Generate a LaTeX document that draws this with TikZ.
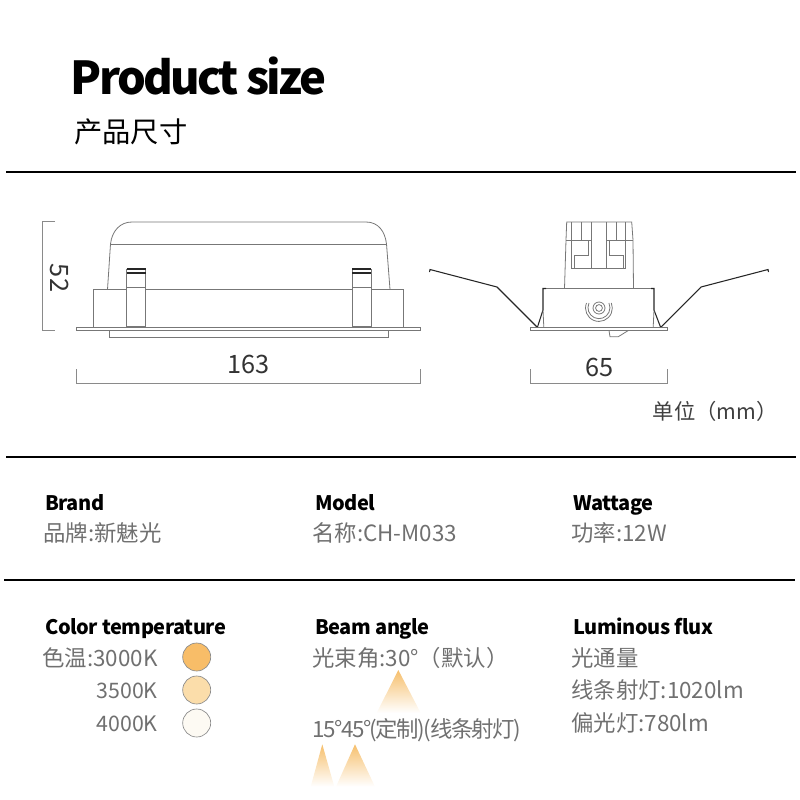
\documentclass[tikz,border=0pt]{standalone}
\usepackage{fontspec}
\setmainfont{Noto Sans CJK SC}
\usepackage{xcolor}
\definecolor{lightink}{HTML}{707070}
\definecolor{dimink}{HTML}{8A8A8A}
\definecolor{partink}{HTML}{777777}
\definecolor{beamorange}{HTML}{F6BF6C}

\begin{document}
\begin{tikzpicture}[x=0.75pt,y=0.75pt,yscale=-1,xscale=1,
    rulebar/.style={line width=1.5pt,black},
    part/.style={line width=0.6pt,partink},
    partdark/.style={line width=0.8pt,black!85},
    dimline/.style={line width=0.6pt,dimink},
    headtext/.style={anchor=base west,inner sep=0pt,font=\fontsize{15}{18}\selectfont\bfseries\addfontfeature{LetterSpace=-2.2}},
    valuetext/.style={anchor=base west,inner sep=0pt,text=lightink,font=\fontsize{16.8}{20}\selectfont},
    dimtext/.style={inner sep=0pt,text=black!80,font=\fontsize{19}{22}\selectfont},
    swatch/.style={circle,draw=black!45,line width=0.5pt,minimum size=21pt,inner sep=0pt},
    beam/.style={top color=beamorange,bottom color=white,draw=none}]
    \useasboundingbox (0,0) rectangle (800,800);

    % Title
    \node (titleEn) [anchor=base west,inner sep=0pt,font=\fontsize{34}{40}\selectfont\bfseries\addfontfeature{LetterSpace=-6}] at (70.5,94) {Product size};
    \node (titleCn) [anchor=west,inner sep=0pt,font=\fontsize{21.2}{26}\selectfont] at (74,132) {产品尺寸};

    % Rules
    \draw [rulebar] (6,172) -- (796,172);
    \draw [rulebar] (6,457) -- (796,457);
    \draw [rulebar] (4,580) -- (795,580);

    % Long view: flange and trim
    \draw [part] (76.5,327) -- (420,327) -- (420,330.5) -- (76.5,330.5) -- cycle;
    \draw [part] (109,330.5) -- (109,337.5) -- (388,337.5) -- (388,330.5);
    \draw [part] (93.5,327) -- (93.5,289.5) -- (403.5,289.5) -- (403.5,327);
    % Long view: driver box
    \draw [part] (107.5,289.5) -- (110.5,244) .. controls (112,231) and (120,222) .. (132,222) -- (366,222) .. controls (378,222) and (385,231) .. (386.5,244) -- (390,289.5);
    \draw [part] (110.5,244) -- (386.5,244);
    % Long view: clips
    \foreach \clipx in {126.5,352}{
        \fill [white] (\clipx,269) rectangle (\clipx+19,327);
        \draw [part] (\clipx,269) -- (\clipx,327) (\clipx+19,269) -- (\clipx+19,327);
        \draw [part] (\clipx,287) -- (\clipx+19,287);
        \draw [partdark] (\clipx,269) -- (\clipx+19,269);
        \draw [partdark] (\clipx,273) -- (\clipx+19,273);
        \draw [part] (\clipx,326.5) -- (\clipx+19,326.5);
    }

    % Dimensions, long view
    \draw [dimline] (55,221.5) -- (42.5,221.5) -- (42.5,330) -- (55,330);
    \draw [dimline] (76.5,369) -- (76.5,383.5) -- (420,383.5) -- (420,369);
    \node (dimHeight) [dimtext,rotate=-90] at (60,278) {52};
    \node (dimLength) [dimtext] at (248.5,364) {163};

    % End view: spring wings
    \draw [partdark] (429.5,272) -- (430,269.5) -- (497,287) -- (537,327);
    \draw [partdark] (768.5,272) -- (768,269.5) -- (701,287) -- (661,327);
    % End view: flange and housing
    \draw [part] (530.5,327) -- (667,327) -- (667,330.5) -- (530.5,330.5) -- cycle;
    \draw [part] (543,288.5) -- (654,288.5);
    \draw [partdark] (546,288.5) -- (543,288.5) -- (543,310) -- (537.5,327);
    \draw [partdark] (651,288.5) -- (654,288.5) -- (654,310) -- (660.5,327);
    \draw [part] (543,310) -- (543.8,327) (654,310) -- (653.2,327);
    % End view: neck
    \draw [part] (564.5,288.5) -- (566,240) -- (566.7,222) -- (631.7,222) -- (633,240) -- (633.5,288.5);
    \draw [part] (566,240) -- (591,240) (606.7,240) -- (633,240);
    \draw [part] (571.7,222) -- (571.7,268) -- (625.7,268) -- (625.7,222);
    \draw [part] (581,222) -- (581,240) (616.7,222) -- (616.7,240);
    \draw [part] (591,222) -- (591,268) (606.7,222) -- (606.7,268);
    \draw [part] (574,268) -- (574,255) -- (588.3,255) -- (588.3,240);
    \draw [part] (623,268) -- (623,255) -- (609.7,255) -- (609.7,240);
    % End view: pivot and tab
    \draw [part] (599,308) circle (6);
    \draw [part] (599,308) circle (3.4);
    \draw [part] (586.5,303) arc [start angle=202,end angle=-22,radius=13.4];
    \draw [part] (589,303) arc [start angle=205,end angle=-25,radius=11];
    \draw [part] (609,330.5) -- (610,336.7) -- (618.3,336.7) -- (628.3,330.5);

    % Dimensions, end view
    \draw [dimline] (530.5,369) -- (530.5,383.5) -- (667.5,383.5) -- (667.5,369);
    \node (dimWidth) [dimtext] at (599.5,367) {65};
    \node (unitNote) [anchor=east,inner sep=0pt,text=black!75,font=\fontsize{16}{18}\selectfont] at (778,411) {单位（mm）};

    % Spec row one
    \node (brandHead) [headtext] at (45,510) {Brand};
    \node (brandValue) [valuetext] at (43,541) {品牌:新魅光};
    \node (modelHead) [headtext] at (315,510) {Model};
    \node (modelValue) [valuetext] at (312,541) {名称:CH-M033};
    \node (wattHead) [headtext] at (573,510) {Wattage};
    \node (wattValue) [valuetext] at (571,541) {功率:12W};

    % Color temperature
    \node (tempHead) [headtext] at (45,634) {Color temperature};
    \node (tempWarm) [valuetext,anchor=base east] at (158,666) {色温:3000K};
    \node (tempMid) [valuetext,anchor=base east,font=\fontsize{16}{20}\selectfont] at (158,698) {3500K};
    \node (tempCool) [valuetext,anchor=base east,font=\fontsize{16}{20}\selectfont] at (158,731) {4000K};
    \node (swatchWarm) [swatch,fill={rgb,255:red,248;green,189;blue,104}] at (196.7,657) {};
    \node (swatchMid) [swatch,fill={rgb,255:red,251;green,221;blue,170}] at (196.7,690) {};
    \node (swatchCool) [swatch,fill={rgb,255:red,253;green,250;blue,243}] at (196.7,723) {};

    % Beam angle
    \node (beamHead) [headtext] at (315,634) {Beam angle};
    \node (beamDefault) [valuetext] at (312,666) {光束角:30°（默认）};
    \node (beamOther) [valuetext,font=\fontsize{16.8}{20}\selectfont\addfontfeature{LetterSpace=-6.5}] at (312,737) {15°45°(定制)(线条射灯)};
    \path [beam] (398.3,670) -- (420.7,713) -- (376.7,713) -- cycle;
    \path [beam] (322.3,744.3) -- (334.3,786.7) -- (310.7,786.7) -- cycle;
    \path [beam] (355,744.3) -- (375,786.7) -- (336,786.7) -- cycle;

    % Luminous flux
    \node (fluxHead) [headtext] at (573,634) {Luminous flux};
    \node (fluxName) [valuetext] at (571,666) {光通量};
    \node (fluxLine) [valuetext] at (571,698) {线条射灯:1020lm};
    \node (fluxSpot) [valuetext] at (571,731) {偏光灯:780lm};
\end{tikzpicture}
\end{document}
